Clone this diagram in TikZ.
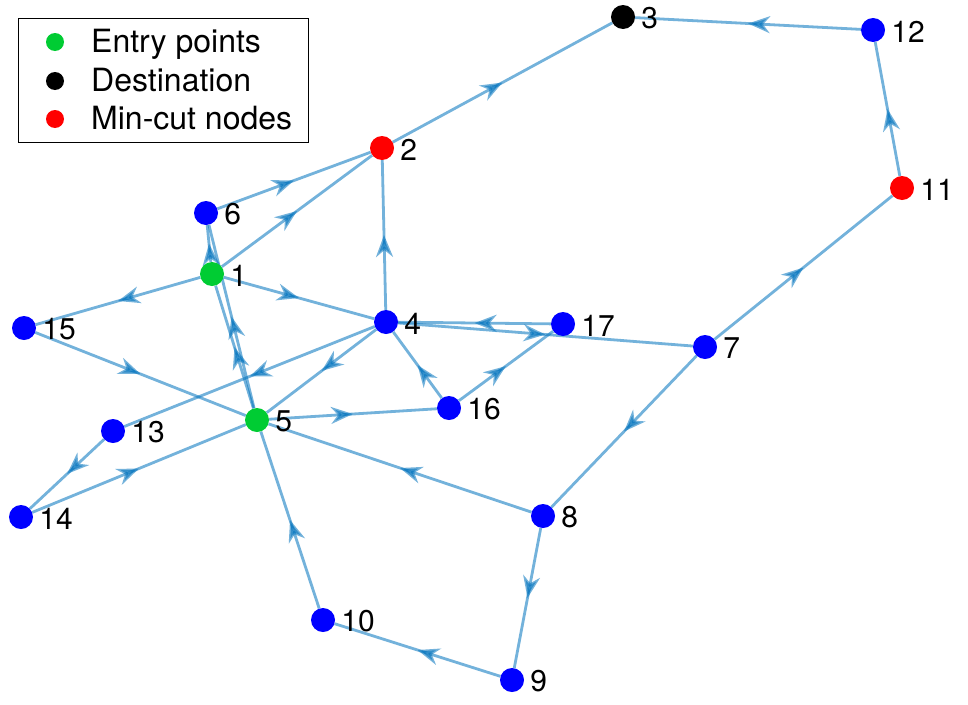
\documentclass[tikz,border=0pt]{standalone}
\usepackage{fontspec}
\setmainfont{TeX Gyre Heros}
\usetikzlibrary{arrows.meta,decorations.markings,backgrounds}

\definecolor{nodeblue}{RGB}{0,0,255}
\definecolor{entrygreen}{RGB}{0,204,51}
\definecolor{cutred}{RGB}{255,0,0}
\definecolor{flowblue}{RGB}{0,114,189}

\begin{document}
\begin{tikzpicture}[x=1pt, y=-1pt,
    vertex/.style={circle, inner sep=0pt, minimum size=24pt, fill=nodeblue},
    lbl/.style={label distance=6pt, inner sep=0pt, yshift=-1.5pt, font=\fontsize{30}{36}\selectfont},
    flow/.style={draw=flowblue, line width=2.8pt, opacity=0.55, postaction={decorate},
        decoration={markings, mark=at position 0.5 with {\arrow{Stealth[length=22pt,width=17pt,inset=7pt]}}}},
    legdot/.style={circle, inner sep=0pt, minimum size=18pt},
    legtext/.style={anchor=base west, inner sep=0pt, font=\fontsize{32}{38}\selectfont}]
    \useasboundingbox (0,0) rectangle (968,704);

    % Nodes {v1, v2, ..., v17}
    \node [vertex, fill=entrygreen, label={[lbl]right:1}]  (v1)  at (212,274) {};
    \node [vertex, fill=cutred,     label={[lbl]right:2}]  (v2)  at (382,148) {};
    \node [vertex, fill=black,      label={[lbl]right:3}]  (v3)  at (623,17)  {};
    \node [vertex, label={[lbl]right:4}]                   (v4)  at (386,322) {};
    \node [vertex, fill=entrygreen, label={[lbl]right:5}]  (v5)  at (257,420) {};
    \node [vertex, label={[lbl]right:6}]                   (v6)  at (206,213) {};
    \node [vertex, label={[lbl]right:7}]                   (v7)  at (705,347) {};
    \node [vertex, label={[lbl]right:8}]                   (v8)  at (543,516) {};
    \node [vertex, label={[lbl]right:9}]                   (v9)  at (512,680) {};
    \node [vertex, label={[lbl]right:10}]                  (v10) at (323,620) {};
    \node [vertex, fill=cutred,     label={[lbl]right:11}] (v11) at (902,188) {};
    \node [vertex, label={[lbl]right:12}]                  (v12) at (873,30)  {};
    \node [vertex, label={[lbl]right:13}]                  (v13) at (113,431) {};
    \node [vertex, label={[lbl]right:14}]                  (v14) at (21,517)  {};
    \node [vertex, label={[lbl]right:15}]                  (v15) at (24,328)  {};
    \node [vertex, label={[lbl]right:16}]                  (v16) at (449,408) {};
    \node [vertex, label={[lbl]right:17}]                  (v17) at (563,324) {};

    % Paths
    \begin{pgfonlayer}{background}
    \path (v1)  edge [flow] (v2);
    \path (v1)  edge [flow] (v4);
    \path (v1)  edge [flow] (v6);
    \path (v1)  edge [flow] (v15);
    \path (v2)  edge [flow] (v3);
    \path (v4)  edge [flow] (v2);
    \path (v4)  edge [flow] (v5);
    \path (v4)  edge [flow] (v7);
    \path (v4)  edge [flow] (v13);
    \path (v5)  edge [flow] (v1);
    \path (v5)  edge [flow] (v6);
    \path (v5)  edge [flow] (v16);
    \path (v6)  edge [flow] (v2);
    \path (v7)  edge [flow] (v8);
    \path (v7)  edge [flow] (v11);
    \path (v8)  edge [flow] (v5);
    \path (v8)  edge [flow] (v9);
    \path (v9)  edge [flow] (v10);
    \path (v10) edge [flow] (v5);
    \path (v11) edge [flow] (v12);
    \path (v12) edge [flow] (v3);
    \path (v13) edge [flow] (v14);
    \path (v14) edge [flow] (v5);
    \path (v15) edge [flow] (v5);
    \path (v16) edge [flow] (v4);
    \path (v16) edge [flow] (v17);
    \path (v17) edge [flow] (v4);
    \end{pgfonlayer}

    % Legend
    \draw [fill=white, line width=0.8pt] (18,18) rectangle (308,142);
    \node [legdot, fill=entrygreen] (kEntry) at (55,42)  {};
    \node [legdot, fill=black]      (kDest)  at (55,81)  {};
    \node [legdot, fill=cutred]     (kCut)   at (55,119) {};
    \node [legtext] (tEntry) at (91,52)  {Entry points};
    \node [legtext] (tDest)  at (91,91)  {Destination};
    \node [legtext] (tCut)   at (91,129) {Min-cut nodes};
\end{tikzpicture}
\end{document}
